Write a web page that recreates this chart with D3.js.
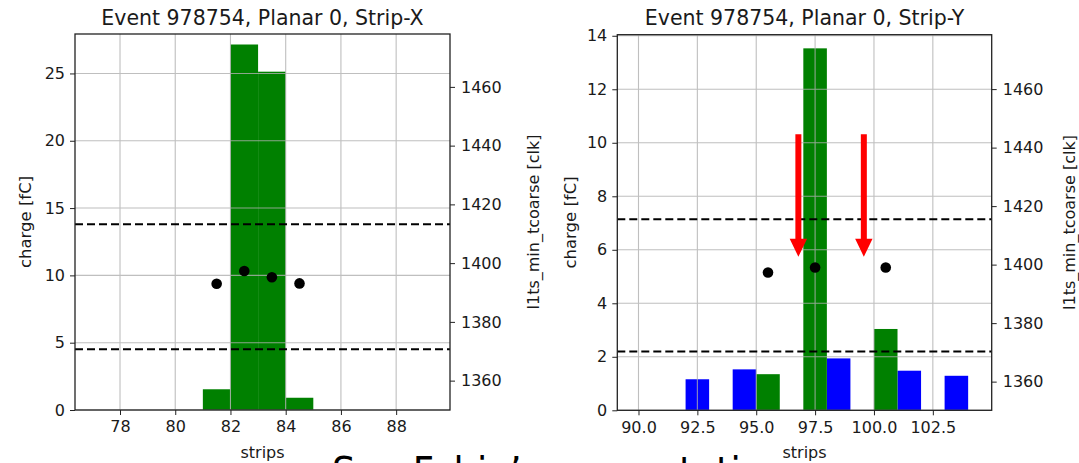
<!DOCTYPE html>
<html>
<head>
<meta charset="utf-8">
<script src="https://cdn.jsdelivr.net/npm/d3@7"></script>
<style>
  html, body { margin: 0; padding: 0; background: #fff; overflow: hidden; }
  svg { display: block; }
  text { font-family: "DejaVu Sans", sans-serif; fill: #1a1a1a; }
</style>
</head>
<body>
<svg id="chart" width="1079" height="463"></svg>
<script>
// ---- Strip-X (planar 0) ----
const stripXBins = [81, 82, 83, 84];
const stripXCharge = [1.54, 27.15, 25.13, 0.91];
const stripXTimeStrips = [81.5, 82.5, 83.5, 84.5];
const stripXTime = [1393.0, 1397.3, 1395.2, 1393.1];
const stripXWindow = [1370.7, 1413.2];
const stripXTicks = [78, 80, 82, 84, 86, 88];
const stripXChargeTicks = [0, 5, 10, 15, 20, 25];

// ---- Strip-Y (planar 0) ----
const stripYGreenBins = [95, 97, 100];
const stripYGreenCharge = [1.35, 13.53, 3.04];
const stripYBlueBins = [92, 94, 98, 101, 103];
const stripYBlueCharge = [1.16, 1.53, 1.94, 1.48, 1.29];
const stripYTimeStrips = [95.5, 97.5, 100.5];
const stripYTime = [1397.3, 1399.0, 1399.0];
const stripYWindow = [1370.3, 1415.5];
const stripYTicks = [90, 92.5, 95, 97.5, 100, 102.5];
const stripYChargeTicks = [0, 2, 4, 6, 8, 10, 12, 14];
// highlighted gaps around the main Y cluster
const arrowStrips = [96.79, 99.57];
const arrowFrom = [10.32, 10.32];
const arrowTo = [5.74, 5.74];

const timeTicks = [1360, 1380, 1400, 1420, 1440, 1460];

const svg = d3.select("#chart");

function drawPanel(cfg) {
  const g = svg.append("g");
  const x = d3.scaleLinear().domain(cfg.xDomain).range([cfg.left, cfg.right]);
  const y = d3.scaleLinear().domain(cfg.yDomain).range([cfg.bottom, cfg.top]);
  const t = d3.scaleLinear().domain(cfg.tDomain).range([cfg.bottom, cfg.top]);

  // bars (charge per strip)
  cfg.bars.forEach(set => {
    g.append("g").selectAll("rect").data(set.bins.map((b, i) => ({ b, v: set.values[i] })))
      .join("rect")
      .attr("x", d => x(d.b))
      .attr("width", d => x(d.b + 1) - x(d.b))
      .attr("y", d => y(d.v))
      .attr("height", d => y(0) - y(d.v))
      .attr("fill", set.color);
  });

  // grid on top of bars, below lines
  const grid = g.append("g").attr("stroke", "#b0b0b0").attr("stroke-width", 1.1).attr("opacity", 0.8);
  grid.selectAll(".gx").data(cfg.xTicks).join("line")
    .attr("x1", d => x(d)).attr("x2", d => x(d)).attr("y1", cfg.top).attr("y2", cfg.bottom);
  grid.selectAll(".gy").data(cfg.yTicks).join("line")
    .attr("y1", d => y(d)).attr("y2", d => y(d)).attr("x1", cfg.left).attr("x2", cfg.right);

  // time window (dashed)
  g.append("g").selectAll("line").data(cfg.window).join("line")
    .attr("x1", cfg.left).attr("x2", cfg.right)
    .attr("y1", d => t(d)).attr("y2", d => t(d))
    .attr("stroke", "#000").attr("stroke-width", 2).attr("stroke-dasharray", "8,4");

  // l1ts_min_tcoarse points
  g.append("g").selectAll("circle").data(cfg.pts.map((s, i) => ({ s, v: cfg.ptsVal[i] })))
    .join("circle")
    .attr("cx", d => x(d.s)).attr("cy", d => t(d.v)).attr("r", 5.3).attr("fill", "#000");

  // axes
  const fmt = cfg.xFormat;
  const xAxis = g.append("g").attr("transform", `translate(0,${cfg.bottom})`)
    .call(d3.axisBottom(x).tickValues(cfg.xTicks).tickFormat(fmt).tickSize(5).tickPadding(6));
  const yAxis = g.append("g").attr("transform", `translate(${cfg.left},0)`)
    .call(d3.axisLeft(y).tickValues(cfg.yTicks).tickFormat(d3.format("d")).tickSize(5).tickPadding(5));
  const tAxis = g.append("g").attr("transform", `translate(${cfg.right},0)`)
    .call(d3.axisRight(t).tickValues(timeTicks).tickFormat(d3.format("d")).tickSize(5).tickPadding(6));
  [xAxis, yAxis, tAxis].forEach(a => {
    a.select(".domain").remove();
    a.selectAll(".tick line").attr("stroke", "#222").attr("stroke-width", 1);
    a.selectAll(".tick text").attr("font-size", 16).attr("font-family", "DejaVu Sans").attr("fill", "#222");
  });

  // frame
  g.append("rect").attr("x", cfg.left).attr("y", cfg.top)
    .attr("width", cfg.right - cfg.left).attr("height", cfg.bottom - cfg.top)
    .attr("fill", "none").attr("stroke", "#222").attr("stroke-width", 1.3);

  // labels
  g.append("text").attr("x", (cfg.left + cfg.right) / 2).attr("y", 25)
    .attr("text-anchor", "middle").attr("font-size", 20.5).text(cfg.title);
  g.append("text").attr("x", (cfg.left + cfg.right) / 2).attr("y", 458)
    .attr("text-anchor", "middle").attr("font-size", 16).text("strips");
  g.append("text").attr("transform", `translate(${cfg.yLabelX},${(cfg.top + cfg.bottom) / 2}) rotate(-90)`)
    .attr("text-anchor", "middle").attr("font-size", 16.5).text("charge [fC]");
  g.append("text").attr("transform", `translate(${cfg.tLabelX},${(cfg.top + cfg.bottom) / 2}) rotate(-90)`)
    .attr("text-anchor", "middle").attr("font-size", 16).text("l1ts_min_tcoarse [clk]");

  return { x, y, t, g };
}

drawPanel({
  left: 75, right: 450, top: 34, bottom: 410,
  xDomain: [76.37, 89.95], yDomain: [0, 27.93], tDomain: [1350.0, 1478.0],
  bars: [{ bins: stripXBins, values: stripXCharge, color: "#008000" }],
  pts: stripXTimeStrips, ptsVal: stripXTime, window: stripXWindow,
  xTicks: stripXTicks, yTicks: stripXChargeTicks, xFormat: d3.format("d"),
  title: "Event 978754, Planar 0, Strip-X",
  yLabelX: 31, tLabelX: 539
});

const right = drawPanel({
  left: 617.3, right: 991.7, top: 34.7, bottom: 410.3,
  xDomain: [89.1, 105.0], yDomain: [0, 14.04], tDomain: [1350.2, 1478.6],
  bars: [
    { bins: stripYBlueBins, values: stripYBlueCharge, color: "#0000ff" },
    { bins: stripYGreenBins, values: stripYGreenCharge, color: "#008000" }
  ],
  pts: stripYTimeStrips, ptsVal: stripYTime, window: stripYWindow,
  xTicks: stripYTicks, yTicks: stripYChargeTicks, xFormat: d3.format(".1f"),
  title: "Event 978754, Planar 0, Strip-Y",
  yLabelX: 576, tLabelX: 1075
});

// red arrows marking the gaps in the Y cluster
const ag = svg.append("g").attr("fill", "#ff0000");
arrowStrips.forEach((s, i) => {
  const cx = right.x(s), y0 = right.y(arrowFrom[i]), y1 = right.y(arrowTo[i]);
  const head = 18, hw = 8.7, sw = 3;
  ag.append("path").attr("d",
    `M${cx - sw},${y0} L${cx + sw},${y0} L${cx + sw},${y1 - head} L${cx + hw},${y1 - head} ` +
    `L${cx},${y1} L${cx - hw},${y1 - head} L${cx - sw},${y1 - head} Z`);
});

// caption below the panels
svg.append("text").attr("x", 332).attr("y", 486)
  .attr("font-family", "Open Sans, sans-serif").attr("font-size", 40)
  .attr("textLength", 455).attr("lengthAdjust", "spacingAndGlyphs")
  .style("fill", "#000")
  .text("See Fabio\u2019s presentation");
</script>
</body>
</html>
